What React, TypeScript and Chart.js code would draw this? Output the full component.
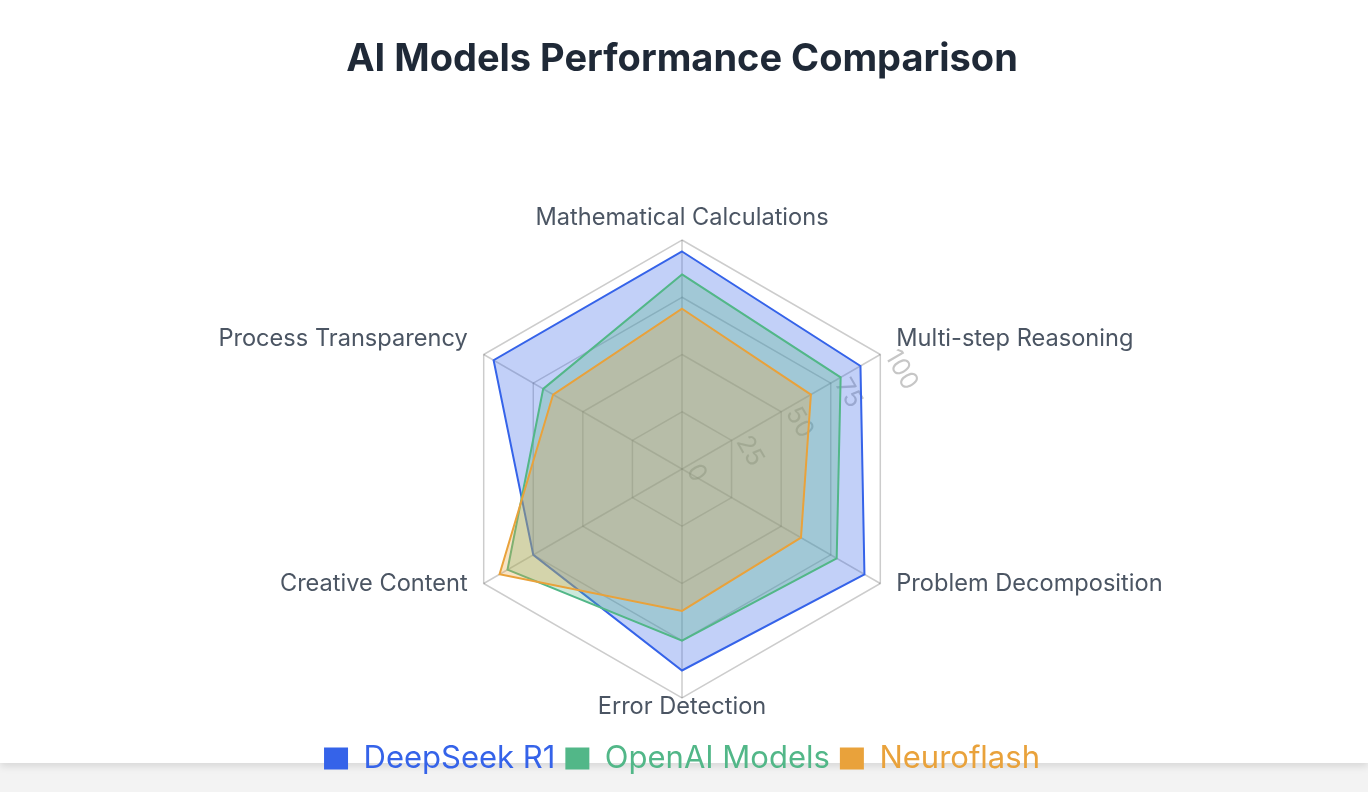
import React, { useEffect, useRef } from 'react';
import { Chart, registerables, RadialLinearScale } from 'chart.js';

const categories = [
  'Mathematical Calculations',
  'Multi-step Reasoning',
  'Problem Decomposition',
  'Error Detection',
  'Creative Content',
  'Process Transparency',
];
const deepseekValues = [95, 90, 92, 88, 75, 95];
const openaiValues = [85, 80, 78, 75, 88, 70];
const neuroflashValues = [70, 65, 60, 62, 92, 65];
const seriesNames = ['DeepSeek R1', 'OpenAI Models', 'Neuroflash'];
const tickValues = [0, 25, 50, 75, 100];

const BLUE = '#3563e9';
const GREEN = '#52b788';
const ORANGE = '#e9a23b';
const FONT = 'Inter, "Noto Sans", sans-serif';
const TICK_FONT = `25px ${FONT}`;

class TiltedRadialScale extends RadialLinearScale {
  static id = 'tiltedRadial';
  static defaults = RadialLinearScale.defaults;

  fit() {
    super.fit();
    const self: any = this;
    const items = self._pointLabelItems;
    if (!items) return;
    for (let i = 0; i < items.length; i++) {
      const it = items[i];
      const w = it.right - it.left;
      const h = it.bottom - it.top;
      const v = this.getPointPosition(i, this.drawingArea);
      const a = this.getIndexAngle(i);
      const s = Math.sin(a);
      const c = Math.cos(a);
      let textAlign = 'center';
      let x = v.x;
      if (Math.abs(s) > 0.01) {
        textAlign = s > 0 ? 'left' : 'right';
        x = v.x + (s > 0 ? 16 : -16);
      }
      let midY;
      if (c > 0.99) midY = v.y - 22;
      else if (c < -0.99) midY = v.y + 9;
      else if (c > 0) midY = v.y - 16;
      else midY = v.y;
      const left = textAlign === 'center' ? x - w / 2 : textAlign === 'left' ? x : x - w;
      const top = midY - h / 2;
      items[i] = { visible: true, x, y: top, textAlign, left, top, right: left + w, bottom: top + h };
    }
  }

  drawLabels() {
    const ctx = this.ctx;
    const t: any = this.options.ticks;
    if (!t.display) return;
    const rot = this.getIndexAngle(1);
    ctx.save();
    ctx.translate(this.xCenter, this.yCenter);
    ctx.rotate(rot);
    ctx.font = TICK_FONT;
    ctx.fillStyle = t.color;
    ctx.textAlign = 'left';
    ctx.textBaseline = 'alphabetic';
    this.ticks.forEach((tick: any) => {
      const off = this.getDistanceFromCenterForValue(tick.value);
      ctx.fillText(String(tick.label), 3, -off - 3);
    });
    ctx.restore();
  }
}

Chart.register(...registerables, TiltedRadialScale);

export default function App() {
  const ref = useRef<HTMLCanvasElement>(null);

  useEffect(() => {
    if (!ref.current) return;
    const mk = (label: string, data: number[], color: string, fill: string, order: number) => ({
      label,
      data,
      borderColor: color,
      backgroundColor: fill,
      borderWidth: 2,
      pointRadius: 0,
      pointHoverRadius: 0,
      fill: true,
      order,
    });
    const chart = new Chart(ref.current, {
      type: 'radar',
      data: {
        labels: categories,
        datasets: [
          mk(seriesNames[0], deepseekValues, BLUE, 'rgba(53,99,233,0.3)', 3),
          mk(seriesNames[1], openaiValues, GREEN, 'rgba(82,183,136,0.3)', 2),
          mk(seriesNames[2], neuroflashValues, ORANGE, 'rgba(233,162,59,0.3)', 1),
        ],
      },
      options: {
        animation: false,
        responsive: true,
        maintainAspectRatio: false,
        layout: { padding: { left: 0, right: 4, top: 0, bottom: 8 } },
        plugins: {
          title: {
            display: true,
            text: 'AI Models Performance Comparison',
            color: '#1f2937',
            font: { family: FONT, size: 38, weight: 'bold' },
            padding: { top: 37, bottom: 122.6 },
          },
          legend: {
            display: true,
            position: 'bottom',
            labels: {
              font: { family: FONT, size: 31 },
              boxWidth: 24,
              boxHeight: 22,
              padding: 10,
              generateLabels: (c: any) =>
                c.data.datasets.map((ds: any, i: number) => ({
                  text: ds.label,
                  fillStyle: ds.borderColor,
                  strokeStyle: ds.borderColor,
                  lineWidth: 0,
                  fontColor: ds.borderColor,
                  hidden: !c.isDatasetVisible(i),
                  datasetIndex: i,
                })),
            },
          },
          tooltip: { enabled: false },
        },
        scales: {
          r: {
            type: 'tiltedRadial',
            min: tickValues[0],
            max: tickValues[tickValues.length - 1],
            beginAtZero: true,
            ticks: {
              stepSize: 25,
              display: true,
              showLabelBackdrop: false,
              backdropPadding: 0,
              color: 'rgba(128,128,128,0.45)',
              font: { family: FONT, size: 1 },
            },
            grid: { color: 'rgba(0,0,0,0.2)', lineWidth: 1.5, circular: false },
            angleLines: { color: 'rgba(0,0,0,0.2)', lineWidth: 1.5 },
            pointLabels: {
              color: '#4b5563',
              font: { family: FONT, size: 23.6 },
              padding: 6,
            },
          },
        },
      } as any,
    });
    return () => chart.destroy();
  }, []);

  return (
    <div style={{ position: 'fixed', left: 0, top: 0, width: 1368, height: 792, background: '#f3f3f3' }}>
      <div
        style={{
          position: 'absolute',
          left: 0,
          top: 0,
          width: 1368,
          height: 763,
          background: '#ffffff',
          boxShadow: '0 3px 8px rgba(0,0,0,0.12)',
        }}
      />
      <div style={{ position: 'absolute', left: 0, top: 0, width: 1368, height: 792 }}>
        <canvas ref={ref} />
      </div>
    </div>
  );
}
